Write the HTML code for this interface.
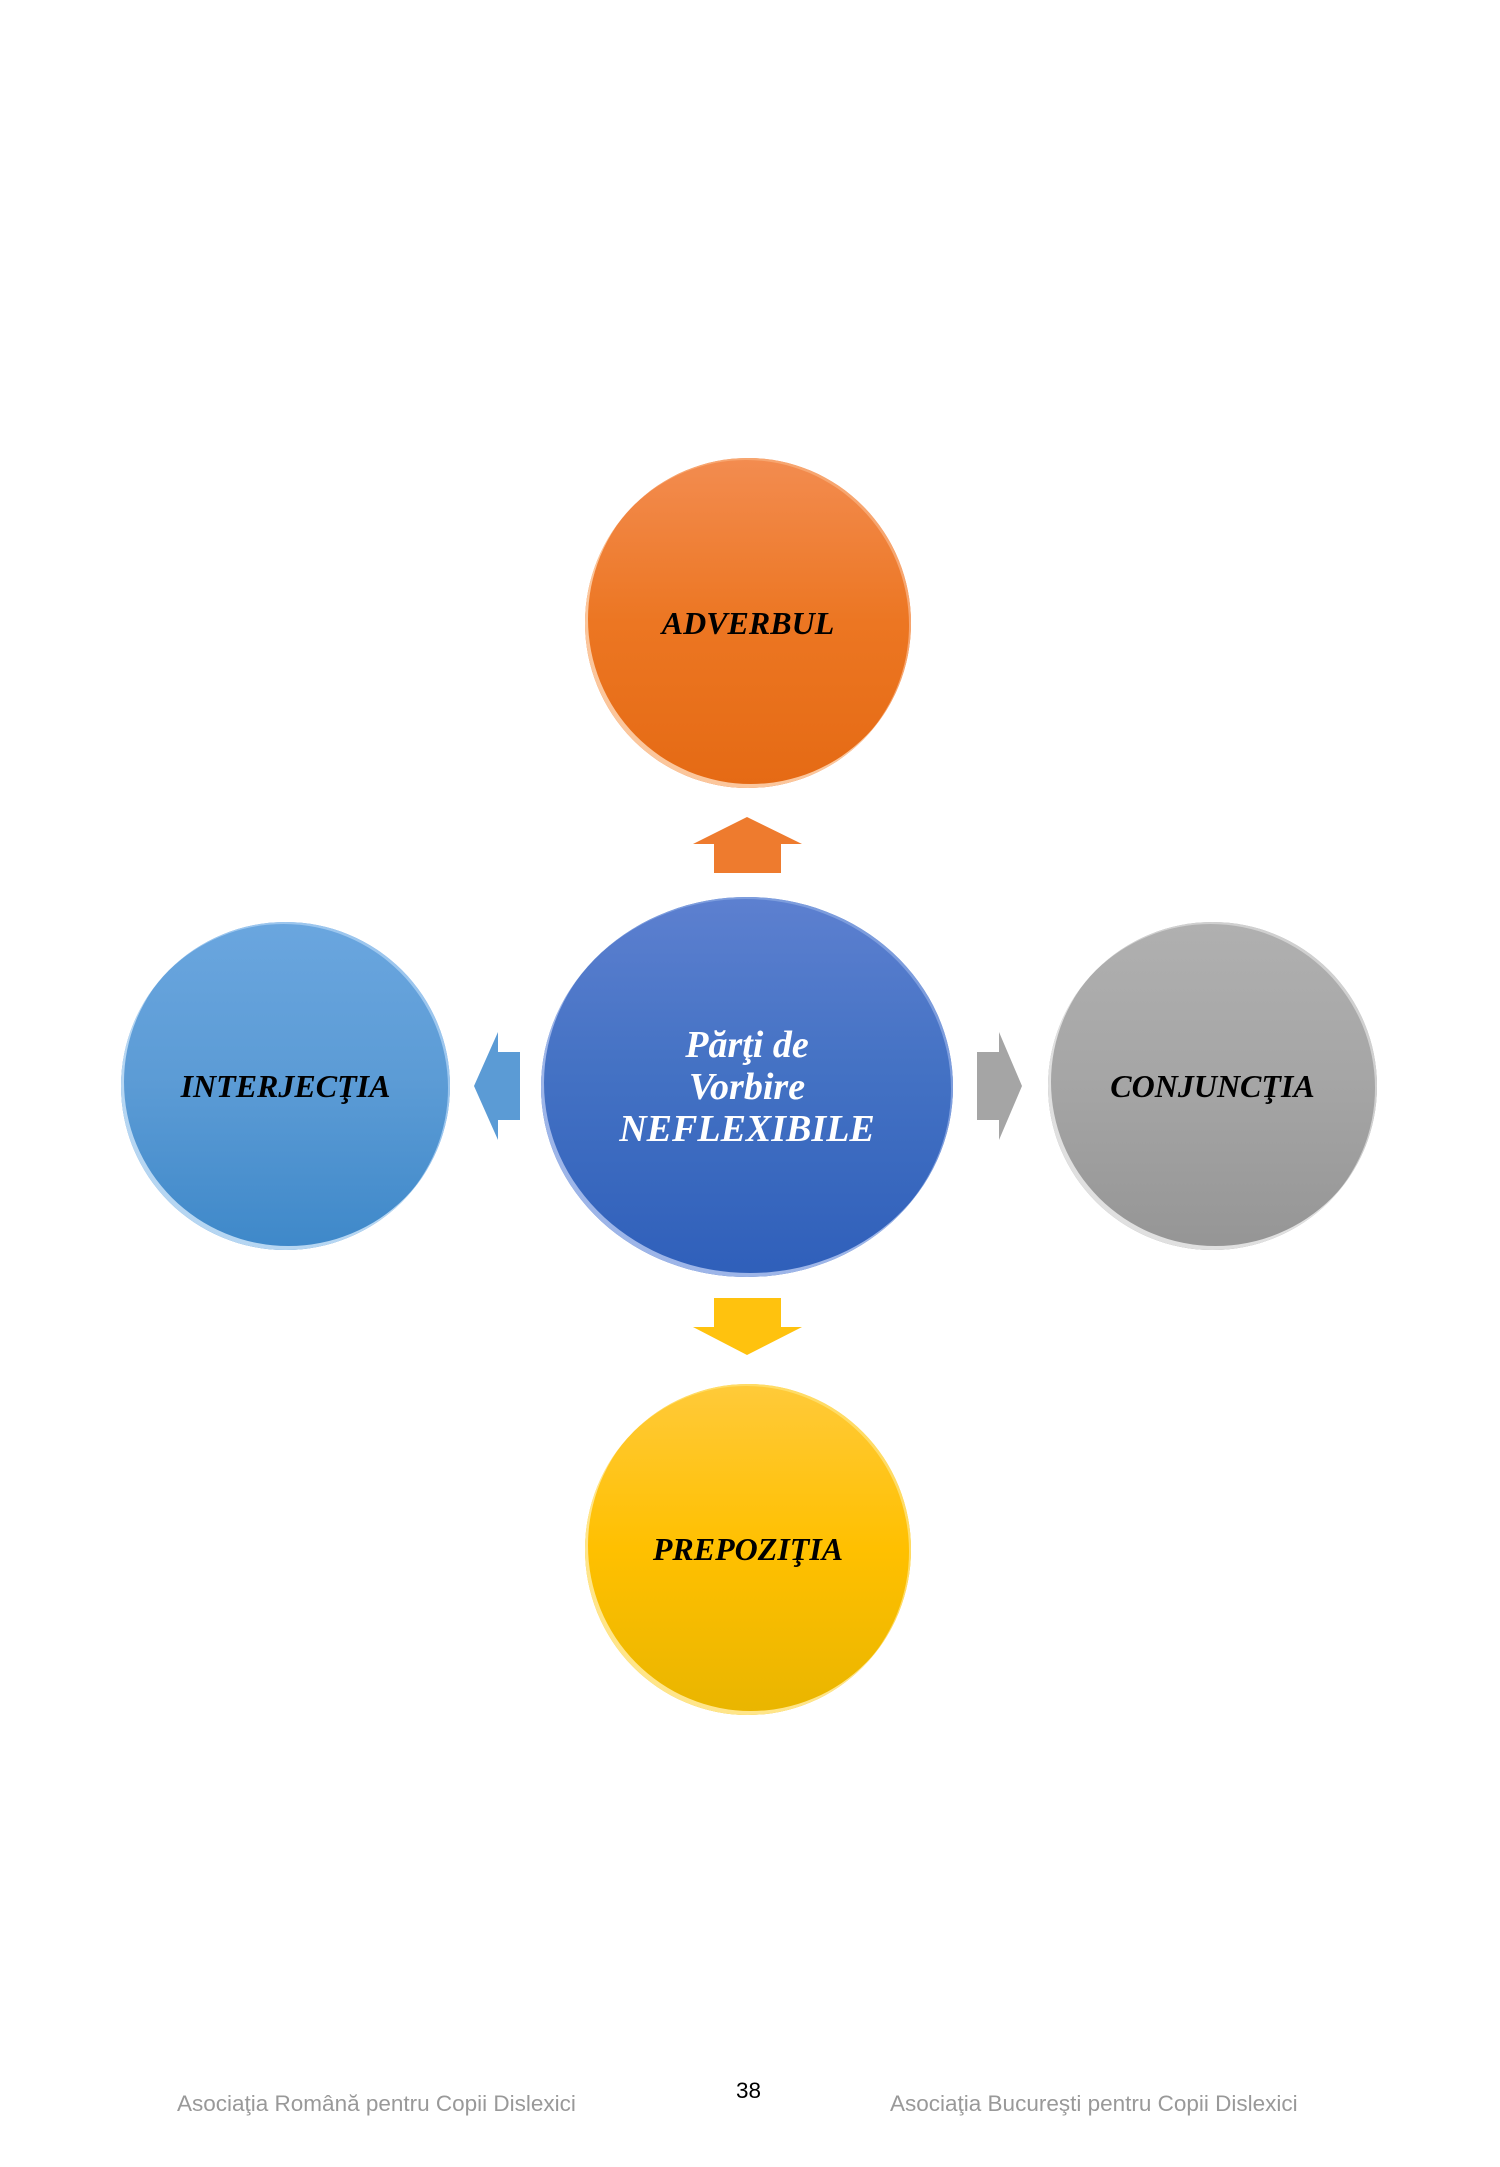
<!DOCTYPE html>
<html><head><meta charset="utf-8"><style>
html,body{margin:0;padding:0;background:#fff}
body{width:1500px;height:2167px;position:relative;overflow:hidden}
.c{position:absolute;border-radius:50%;display:flex;align-items:center;justify-content:center;text-align:center;font-family:"Liberation Serif",serif;font-weight:bold;font-style:italic;font-size:32px;color:#000;box-sizing:border-box}
.f{position:absolute;font-family:"Liberation Sans",sans-serif;font-size:22.5px;color:#999;top:2090px}
</style></head><body>
<div class="c" style="left:585px;top:458px;width:326px;height:330px;background:linear-gradient(#f38c50,#ec7622 50%,#e56a14);box-shadow:inset 3px -4px 0 #fbc69c, inset -2px 2px 0 #f7a670">ADVERBUL</div>
<div class="c" style="left:541px;top:897px;width:412px;height:380px;background:linear-gradient(#5d80d0,#4472c4 45%,#2f5fba);box-shadow:inset 3px -4px 0 #9db5e8, inset -2px 2px 0 #7d9ddd;color:#fff;font-size:38px;line-height:42px">Părţi de<br>Vorbire<br>NEFLEXIBILE</div>
<div class="c" style="left:121px;top:922px;width:329px;height:328px;background:linear-gradient(#6aa6df,#5b9bd5 50%,#3e88c9);box-shadow:inset 3px -4px 0 #b6d6f2, inset -2px 2px 0 #9cc6ee">INTERJECŢIA</div>
<div class="c" style="left:1048px;top:922px;width:329px;height:328px;background:linear-gradient(#b0b0b0,#a5a5a5 50%,#959595);box-shadow:inset 3px -4px 0 #e0e0e0, inset -2px 2px 0 #d0d0d0">CONJUNCŢIA</div>
<div class="c" style="left:585px;top:1384px;width:326px;height:331px;background:linear-gradient(#ffca3a,#ffc000 50%,#e9b500);box-shadow:inset 3px -4px 0 #ffe58a, inset -2px 2px 0 #ffdc66">PREPOZIŢIA</div>
<svg style="position:absolute;left:0;top:0" width="1500" height="2167">
<g transform="translate(-5,0)">
<polygon points="698,844 752,817 807,844 786,844 786,873 719,873 719,844" fill="#ee7b2e"/>
<polygon points="719,1298 786,1298 786,1327 807,1327 752,1355 698,1327 719,1327" fill="#ffc20e"/>
<polygon points="525,1052 525,1120 503,1120 503,1140 479,1086 503,1032 503,1052" fill="#5b9bd5"/>
<polygon points="982,1052 1004,1052 1004,1032 1027,1086 1004,1140 1004,1120 982,1120" fill="#a5a5a5"/>
</g>
</svg>
<div class="f" style="left:177px;top:2091px">Asociaţia Română pentru Copii Dislexici</div>
<div class="f" style="left:736px;top:2078px;color:#000">38</div>
<div class="f" style="left:890px;top:2091px">Asociaţia Bucureşti pentru Copii Dislexici</div>
</body></html>
